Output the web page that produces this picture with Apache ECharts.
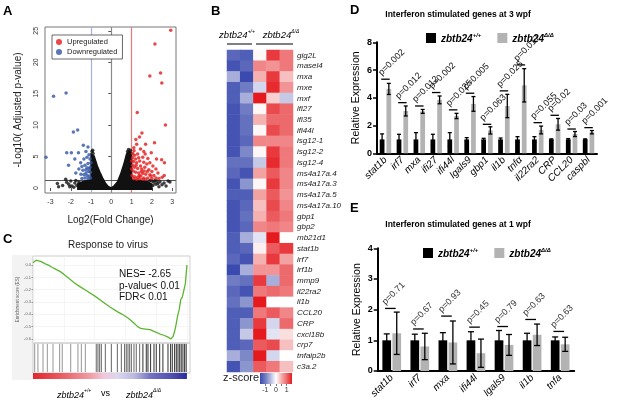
<!DOCTYPE html>
<html><head><meta charset="utf-8">
<script src="https://cdn.jsdelivr.net/npm/echarts@6/dist/echarts.min.js"></script>
<style>html,body{margin:0;padding:0;background:#fff}#c{width:617px;height:406px}</style>
</head><body><div id="c"></div>
<script>
// ---------------- DATA ----------------
// Panel A: volcano plot  [log2FC, -log10 adj p]
const volcanoUp = [[2.93,25.1],[2.15,22.9],[2.43,18.3],[1.9,17.8],[2.49,16.7],[1.28,12.0],[2.67,10.0],[1.51,8.76],[1.39,8.1],[2.13,7.2],[1.21,7.7],[1.69,6.95],[1.25,6.95],[1.44,6.2],[1.11,6.4],[1.97,5.6],[1.67,5.4],[2.48,4.5],[2.23,4.6],[2.62,4.0],[1.44,3.5],[2.61,2.0],[2.51,1.7],
[1.05,5.5],[1.15,5.2],[1.3,5.4],[1.05,4.8],[1.2,4.6],[1.35,4.8],[1.55,4.9],[1.8,4.7],[1.1,4.2],[1.25,4.0],[1.4,4.3],[1.6,4.1],[1.75,3.8],[1.9,4.0],[2.05,3.5],[1.05,3.6],[1.15,3.3],[1.3,3.1],[1.5,3.0],[1.65,3.3],[1.85,2.9],[2.0,2.6],[2.2,3.0],[1.08,2.7],[1.2,2.5],[1.35,2.4],[1.55,2.3],[1.7,2.2],[1.9,2.1],[2.1,2.0],[2.3,2.4],[1.02,2.0],[1.15,1.8],[1.3,1.7],[1.45,1.9],[1.6,1.6],[1.8,1.6],[2.0,1.5],[2.2,1.6],[1.1,1.5],[1.25,1.4],[1.4,1.45],[1.55,1.4],[1.7,1.4],[1.95,1.9],[2.35,1.5],[1.0,3.0],[1.0,4.3],[1.12,5.9],[1.6,5.8],[1.22,3.6],[1.38,2.0],[1.62,2.7],[1.78,2.6],[1.48,2.6]];
const volcanoDown = [[-2.85,14.6],[-2.23,15.1],[-1.66,9.2],[-1.87,8.9],[-3.22,4.9],[-1.38,6.8],[-1.15,6.5],[-2.2,5.6],[-1.97,5.6],[-1.62,5.6],[-1.25,5.8],[-1.1,5.3],[-1.8,4.6],[-2.11,3.6],[-1.51,4.0],[-1.35,4.6],[-1.2,4.9],[-1.05,4.6],[-1.45,3.4],[-1.3,3.6],[-1.15,3.9],[-1.05,3.3],[-1.4,2.8],[-1.25,2.9],[-1.12,2.6],[-1.03,2.5],[-1.5,2.2],[-1.35,2.1],[-1.2,2.0],[-1.08,1.9],[-1.3,1.6],[-1.15,1.5],[-1.02,1.6],[-1.45,1.5],[-1.6,3.0],[-1.75,2.4],[-1.25,2.4],[-1.1,3.0],[-1.0,4.0],[-1.2,3.2]];
const volcanoNS = [[-2.66,0.7],[-2.25,1.4],[-2.2,0.9],[-2.1,0.6],[-1.95,0.3],[-1.8,0.8],[-1.7,0.4],[-1.6,1.0],[-2.4,0.4],[-2.0,1.1],[-1.75,1.2],[-2.6,0.2],[-1.55,0.6],[-2.05,0.2],[-1.85,0.1],
[2.89,0.95],[2.6,0.8],[2.4,1.0],[2.2,0.6],[2.1,0.9],[2.25,1.1],[2.5,0.5],[2.7,0.3],[2.35,0.2],[2.05,0.4],[2.0,1.1],[1.9,1.2],[2.15,1.2],[2.8,1.1],[2.3,0.7],
[-0.95,5.8],[-0.9,5.5],[0.85,6.1],[0.95,6.0],[-0.92,6.0],[0.8,5.8]];
// envelope of the dense non-significant gene cloud
const volcanoCloud = [[-1.65,-0.2],[-1.65,0.7],[-1.3,1.1],[-1.0,1.3],[-1.0,5.4],[-0.85,5.1],[-0.69,3.5],[-0.56,2.5],[-0.44,1.65],[-0.28,0.7],[-0.14,0.2],[0,0.02],[0.13,0.3],[0.3,0.95],[0.46,2.2],[0.62,3.8],[0.75,5.4],[0.87,5.9],[1.0,5.6],[1.0,1.3],[1.4,1.2],[1.8,1.0],[2.0,0.6],[2.0,-0.2]];
const volcanoFCcuts = [-1, 0, 1];
const volcanoPcut = 1.3;
const volcanoXTicks = [-3,-2,-1,0,1,2,3];
const volcanoYTicks = [0,5,10,15,20,25];

// Panel B: heatmap z-scores
const heatGenes = ['gig2L','masel4','mxa','mxe','mxf','ifi27','ifi35','ifi44l','isg12-1','isg12-2','isg12-4','ms4a17a.4','ms4a17a.3','ms4a17a.5','ms4a17a.10','gbp1','gbp2','mb21d1','stat1b','irf7','irf1b','mmp9','il22ra2','il1b','CCL20','CRP','cxcl18b','crp7','tnfaip2b','c3a.2'];
const heatSamples = ['WT-1','WT-2','MUT-1','MUT-2','MUT-3'];
const heatZ = [
[-1.2,-1.3,0.05,1.3,0.9],[-1.4,-1.2,0.8,0.7,0.9],[-0.6,-1.5,0.5,1.3,0.4],[-1.3,-1.0,-0.3,1.4,0.7],[-1.3,-0.6,1.5,0.3,-0.4],
[-1.4,-1.0,0.05,1.2,1.0],[-1.4,-1.1,0.5,1.0,1.0],[-1.4,-1.1,0.05,1.2,1.0],[-1.4,-1.2,0.8,0.8,0.8],[-1.4,-0.9,0.05,1.3,0.9],
[-1.1,-1.1,-0.4,1.4,0.9],[-1.2,-1.4,0.6,1.1,0.8],[-1.4,-0.8,0.05,1.3,0.8],[-1.3,-1.3,0.6,1.1,0.7],[-1.4,-1.2,0.4,1.2,0.8],
[-1.4,-1.1,0.5,1.1,0.9],[-1.4,-1.2,0.8,0.9,0.8],[-1.3,-0.6,-0.2,1.5,0.0],[-1.3,-1.2,0.1,1.1,1.3],[-1.2,-1.4,0.5,1.3,0.6],
[-1.5,-0.6,0.7,0.7,1.0],[-1.0,-1.1,1.3,-0.6,1.0],[-1.2,-1.4,0.9,1.0,0.9],[-1.1,-0.8,1.5,0.0,0.0],[-1.3,-1.3,0.9,1.1,0.8],
[-1.3,-0.8,1.3,-0.3,1.0],[-1.3,-0.4,1.5,-0.2,0.2],[-1.3,-1.2,1.1,1.2,0.4],[-0.6,-0.9,1.5,-0.3,0.0],[-1.4,-0.8,1.1,0.9,0.4]];
const zScoreTicks = [-1, 0, 1];

// Panel C: GSEA running enrichment score [rank %, ES]
const gseaES = [[0,0.02],[1,0.03],[2,0.04],[3.5,0.035],[5,0.03],[6.5,0.02],[8,0.01],[10,0.0],[12,-0.015],[15,-0.035],[18,-0.055],[21,-0.085],[24,-0.115],[27,-0.145],[30.5,-0.175],[35,-0.21],[40,-0.25],[45,-0.295],[50,-0.34],[55,-0.38],[58,-0.40],[61.7,-0.43],[65,-0.465],[68,-0.5],[70,-0.515],[73,-0.52],[76,-0.525],[79,-0.54],[82.5,-0.56],[85,-0.57],[87.7,-0.585],[89.6,-0.6],[91,-0.58],[92,-0.54],[93,-0.48],[94,-0.41],[95,-0.36],[96,-0.28],[97,-0.26],[98,-0.25],[99,-0.15],[100,0.0]];
const gseaHits = [1.1,3.2,6.5,9.3,13,17.3,19,24.5,29.2,31.4,34,41.1,42.2,43.3,44.4,47,50.9,54.8,57.4,59.5,60.6,61.7,62.8,63.9,65.6,67.1,69.3,71.4,73.6,74.7,76.4,78.6,80.1,82.3,84.4,87.7,89.4,90.5,92,93.1,94.2,95.3,96.3,97.4,98.5,99.5];
const gseaYTicks = [0,-0.1,-0.2,-0.3,-0.4,-0.5,-0.6];
const gseaStats = ['NES= -2.65','p-value< 0.01','FDR< 0.01'];

// Panel D: 3 wpf qPCR
const dGenes = ['stat1b','irf7','mxa','ifi27','ifi44l','lgals9','gbp1','il1b','tnfα','il22ra2','CRP','CCL20','caspbl'];
const dWT = [1,1,1,1,1,1,1,1,1,1,1,1,1];
const dWTerr = [0.4,0.37,0.49,0.37,0.49,0.13,0.08,0.1,0.2,0.2,0.04,0.06,0.04];
const dKO = [4.64,3.05,3.02,3.85,2.69,3.56,1.65,3.41,4.9,1.68,2.09,1.39,1.52];
const dKOerr = [0.4,0.36,0.14,0.28,0.19,0.53,0.26,0.84,1.2,0.28,0.42,0.18,0.12];
const dLineY = [5.34,3.65,3.41,4.38,3.13,4.33,2.09,4.5,6.37,2.21,2.74,1.75,1.85];
const dP = ['p=0.002','p=0.012','p=0.012','p=0.002','p=0.025','p=0.005','p=0.063','p=0.025','p=0.017','p=0.055','p=0.02','p=0.03','p=0.001'];

// Panel E: 1 wpf qPCR
const eGenes = ['stat1b','irf7','mxa','ifi44l','lgals9','il1b','tnfa'];
const eWT = [1,1,1,1,1,1,1];
const eWTerr = [0.21,0.2,0.25,0.28,0.32,0.23,0.11];
const eKO = [1.23,0.8,0.93,0.58,0.85,1.18,0.87];
const eKOerr = [0.69,0.43,0.7,0.46,0.34,0.35,0.23];
const eLineY = [2.04,1.37,1.79,1.43,1.45,1.68,1.29];
const eP = ['p=0.71','p=0.67','p=0.93','p=0.45','p=0.79','p=0.63','p=0.63'];

// ---------------- CHART ----------------
const FF = 'Arial, "Liberation Sans", Helvetica, sans-serif';
const heatColors = ['#3a4aae','#6f7bc2','#b6bbe0','#ffffff','#f5b0b0','#ed6a6c','#e41a1f'];
const chart = echarts.init(document.getElementById('c'), null, {renderer:'canvas'});

function txt(x, y, text, st, extra) {
  return Object.assign({type:'text', x:x, y:y, silent:true, z:50,
    style:Object.assign({text:text, fill:'#000', fontFamily:FF, fontSize:10, align:'left', verticalAlign:'middle'}, st||{})}, extra||{});
}
function geno(fs, bold) {
  return {
    g:{fontStyle:'italic', fontWeight:bold?'bold':'normal', fontSize:fs, fontFamily:FF, fill:'#000', color:'#000', lineHeight:fs+2, verticalAlign:'bottom'},
    s:{fontStyle:'italic', fontWeight:bold?'bold':'normal', fontSize:Math.round(fs*0.55), fontFamily:FF, fill:'#000', color:'#000', lineHeight:fs+2, verticalAlign:'top'},
    n:{fontSize:fs, fontFamily:FF, fill:'#000', color:'#000', lineHeight:fs+2}
  };
}

function errRender(offFrac, capPx) {
  return function(params, api) {
    const i = api.value(0), m = api.value(1), e = api.value(2), side = api.value(3);
    const band = api.size([1,0])[0];
    const x = api.coord([i, m])[0] + side*offFrac*band;
    const top = api.coord([i, m+e])[1];
    const bot = api.coord([i, Math.max(m-e,0)])[1];
    const st = {stroke:'#000', lineWidth:1.3};
    return {type:'group', children:[
      {type:'line', shape:{x1:x,y1:top,x2:x,y2:bot}, style:st},
      {type:'line', shape:{x1:x-capPx/2,y1:top,x2:x+capPx/2,y2:top}, style:st},
      {type:'line', shape:{x1:x-capPx/2,y1:bot,x2:x+capPx/2,y2:bot}, style:st}
    ]};
  };
}
function pRender(labels, lenFrac, shiftFrac, fs, col) {
  return function(params, api) {
    const i = api.value(0), y = api.value(1);
    const band = api.size([1,0])[0];
    const c = api.coord([i, y]);
    const x1 = c[0] + (shiftFrac - lenFrac/2)*band, x2 = c[0] + (shiftFrac + lenFrac/2)*band;
    return {type:'group', children:[
      {type:'line', shape:{x1:x1,y1:c[1],x2:x2,y2:c[1]}, style:{stroke:'#000', lineWidth:1.3}},
      {type:'text', x:x1+2, y:c[1]-2, rotation:Math.PI/4,
       style:{text:labels[params.dataIndex], x:0, y:0, align:'left', verticalAlign:'bottom', fontSize:fs, fontFamily:FF, fill:col}}
    ]};
  };
}

const dBW = 0.28, dGap = 0.42, eBW = 0.31, eGap = 0.15;
const dOff = (dBW + dBW*dGap)/2, eOff = (eBW + eBW*eGap)/2;

const heatData = [];
heatZ.forEach((row, r) => row.forEach((v, c) => heatData.push([c, r, v])));

const option = {
  animation:false,
  backgroundColor:'#fff',
  textStyle:{fontFamily:FF},
  grid:[
    {left:45, top:27, width:131, height:166, show:true, borderColor:'#777', borderWidth:1, backgroundColor:'transparent'},
    {left:227, top:50, width:66, height:322},
    {left:260, top:373, width:32, height:11},
    {left:33, top:256, width:157, height:87, show:true, borderColor:'#ccc', borderWidth:1},
    {left:33, top:343, width:157, height:30, show:true, borderColor:'#ccc', borderWidth:1},
    {left:33, top:373, width:157, height:6},
    {left:377, top:42.3, width:220, height:111},
    {left:377.7, top:248.3, width:196.5, height:122.7}
  ],
  xAxis:[
    {gridIndex:0, type:'value', min:-3.27, max:3.19, axisLine:{show:false}, splitLine:{show:false},
     axisTick:{show:true, length:3, lineStyle:{color:'#555'}, customValues:volcanoXTicks},
     axisLabel:{fontSize:7, color:'#333', margin:6, customValues:volcanoXTicks},
     name:'Log2(Fold Change)', nameLocation:'middle', nameGap:22, nameTextStyle:{fontSize:10, color:'#222'}},
    {gridIndex:1, type:'category', data:heatSamples, show:false},
    {gridIndex:2, type:'value', min:-1.5, max:1.5, axisLine:{show:false}, splitLine:{show:false},
     axisTick:{show:true, length:2, lineStyle:{color:'#777'}, customValues:[-1,-0.5,0,0.5,1]},
     axisLabel:{fontSize:7, color:'#333', margin:3, customValues:zScoreTicks}},
    {gridIndex:3, type:'value', min:0, max:102, axisLine:{show:false}, axisTick:{show:false}, axisLabel:{show:false},
     splitLine:{show:true, lineStyle:{color:'#eee', width:0.6}}},
    {gridIndex:4, type:'value', min:0, max:102, show:false},
    {gridIndex:5, type:'value', min:0, max:102, show:false},
    {gridIndex:6, type:'category', data:dGenes, axisLine:{lineStyle:{color:'#000', width:2}},
     axisTick:{alignWithLabel:true, length:3, lineStyle:{color:'#000', width:1.5}},
     axisLabel:{rotate:45, fontSize:10, fontStyle:'italic', color:'#000', margin:5, interval:0}},
    {gridIndex:7, type:'category', data:eGenes, axisLine:{lineStyle:{color:'#000', width:2}},
     axisTick:{alignWithLabel:true, length:3, lineStyle:{color:'#000', width:1.5}},
     axisLabel:{rotate:45, fontSize:10, fontStyle:'italic', color:'#000', margin:5, interval:0}}
  ],
  yAxis:[
    {gridIndex:0, type:'value', min:-0.8, max:25.6, axisLine:{show:false}, splitLine:{show:false},
     axisTick:{show:true, length:3, lineStyle:{color:'#555'}, customValues:volcanoYTicks},
     axisLabel:{fontSize:7, color:'#333', rotate:90, margin:5, customValues:volcanoYTicks},
     name:'-Log10( Adjusted p-value)', nameLocation:'middle', nameGap:22, nameTextStyle:{fontSize:10, color:'#222'}},
    {gridIndex:1, type:'category', data:heatGenes, inverse:true, position:'right',
     axisLine:{show:false}, axisTick:{show:false},
     axisLabel:{fontSize:8, fontStyle:'italic', color:'#222', margin:4, interval:0}},
    {gridIndex:2, type:'value', min:0, max:1, show:false},
    {gridIndex:3, type:'value', min:-0.633, max:0.074, axisLine:{show:false},
     axisTick:{show:true, length:1.5, lineStyle:{color:'#999'}, customValues:gseaYTicks},
     axisLabel:{fontSize:4, color:'#666', margin:2, customValues:gseaYTicks, formatter:v=>v.toFixed(1)},
     splitLine:{show:true, lineStyle:{color:'#eee', width:0.6}},
     name:'Enrichment score (ES)', nameLocation:'middle', nameGap:9, nameTextStyle:{fontSize:4.5, color:'#666'}},
    {gridIndex:4, type:'value', min:0, max:1, show:false},
    {gridIndex:5, type:'value', min:0, max:1, show:false},
    {gridIndex:6, type:'value', min:0, max:8, interval:2, axisLine:{show:true, lineStyle:{color:'#000', width:2}},
     axisTick:{show:true, length:4, lineStyle:{color:'#000', width:1.5}}, splitLine:{show:false},
     axisLabel:{fontSize:9, fontWeight:'bold', color:'#000', margin:5},
     name:'Relative Expression', nameLocation:'middle', nameGap:15, nameTextStyle:{fontSize:10.5, color:'#000'}},
    {gridIndex:7, type:'value', min:0, max:4, interval:1, axisLine:{show:true, lineStyle:{color:'#000', width:2}},
     axisTick:{show:true, length:4, lineStyle:{color:'#000', width:1.5}}, splitLine:{show:false},
     axisLabel:{fontSize:9, fontWeight:'bold', color:'#000', margin:5},
     name:'Relative Expression', nameLocation:'middle', nameGap:15, nameTextStyle:{fontSize:10.5, color:'#000'}}
  ],
  visualMap:[{type:'continuous', show:false, min:-1.5, max:1.5, seriesIndex:4, inRange:{color:heatColors}}],
  legend:[
    {data:['Upregulated','Downregulated'], left:52, top:35, orient:'vertical', icon:'circle', itemWidth:6, itemHeight:6, itemGap:2,
     padding:[3,5,3,4], borderColor:'#444', borderWidth:0.8, backgroundColor:'#fff', textStyle:{fontSize:7.5, color:'#222'}, selectedMode:false},
    {data:['WT3','MUT3'], left:421, top:27, orient:'horizontal', icon:'rect', itemWidth:10, itemHeight:10, itemGap:16, selectedMode:false,
     formatter:n=> n==='WT3' ? '{g|zbtb24}{s|+/+}' : '{g|zbtb24}{s|Δ/Δ}', textStyle:{rich:geno(10,true)}},
    {data:['WT1','MUT1'], left:418, top:242, orient:'horizontal', icon:'rect', itemWidth:10, itemHeight:10, itemGap:16, selectedMode:false,
     formatter:n=> n==='WT1' ? '{g|zbtb24}{s|+/+}' : '{g|zbtb24}{s|Δ/Δ}', textStyle:{rich:geno(10,true)}}
  ],
  series:[
    // 0 volcano cloud
    {type:'custom', xAxisIndex:0, yAxisIndex:0, data:[[0,0]], silent:true, z:2,
     renderItem:(p, api)=>({type:'polygon', shape:{points:volcanoCloud.map(pt=>api.coord(pt))}, style:{fill:'#111', stroke:'#111', lineWidth:1.5}})},
    // 1 non significant points + thresholds
    {type:'scatter', name:'NS', xAxisIndex:0, yAxisIndex:0, data:volcanoNS, symbolSize:3.5, itemStyle:{color:'#111'}, z:3,
     markLine:{silent:true, symbol:'none', label:{show:false}, z:1,
       data:[{xAxis:volcanoFCcuts[0], lineStyle:{color:'#9fb2de', width:1.2, type:'solid'}},
             {xAxis:volcanoFCcuts[1], lineStyle:{color:'#8a8a8a', width:1.2, type:'solid'}},
             {xAxis:volcanoFCcuts[2], lineStyle:{color:'#e77b7b', width:1.2, type:'solid'}},
             {yAxis:volcanoPcut, lineStyle:{color:'#555', width:1, type:'solid'}}]}},
    // 2 up
    {type:'scatter', name:'Upregulated', xAxisIndex:0, yAxisIndex:0, data:volcanoUp, symbolSize:3.5, itemStyle:{color:'#e41a1c'}, z:4},
    // 3 down
    {type:'scatter', name:'Downregulated', xAxisIndex:0, yAxisIndex:0, data:volcanoDown, symbolSize:3.5, itemStyle:{color:'#2f55a4'}, z:4},
    // 4 heatmap
    {type:'heatmap', xAxisIndex:1, yAxisIndex:1, data:heatData, itemStyle:{borderWidth:0}},
    // 5 z-score color bar
    {type:'custom', xAxisIndex:2, yAxisIndex:2, data:[[-1.5,1.5]], silent:true,
     renderItem:(p, api)=>{ const a = api.coord([api.value(0),1]), b = api.coord([api.value(1),0]);
       return {type:'rect', shape:{x:a[0], y:a[1], width:b[0]-a[0], height:b[1]-a[1]},
         style:{fill:{type:'linear', x:0, y:0, x2:1, y2:0, colorStops:heatColors.map((c,k)=>({offset:k/(heatColors.length-1), color:c}))}}}; }},
    // 6 GSEA ES line
    {type:'line', xAxisIndex:3, yAxisIndex:3, data:gseaES, showSymbol:false, lineStyle:{color:'#5cb531', width:1.3}, itemStyle:{color:'#5cb531'}, silent:true},
    // 7 GSEA hits
    {type:'custom', xAxisIndex:4, yAxisIndex:4, data:gseaHits.map(h=>[h]), silent:true,
     renderItem:(p, api)=>{ const x = api.value(0); const a = api.coord([x,0.03]), b = api.coord([x,0.97]);
       const col = x < 40 ? '#8a8a8a' : (x < 70 ? '#555' : '#1a1a1a');
       return {type:'line', shape:{x1:a[0], y1:a[1], x2:b[0], y2:b[1]}, style:{stroke:col, lineWidth:0.9}}; }},
    // 8 GSEA ranked-list color bar
    {type:'custom', xAxisIndex:5, yAxisIndex:5, data:[[0,100]], silent:true,
     renderItem:(p, api)=>{ const a = api.coord([api.value(0),1]), b = api.coord([api.value(1),0]);
       return {type:'rect', shape:{x:a[0], y:a[1], width:b[0]-a[0], height:b[1]-a[1]},
         style:{fill:{type:'linear', x:0, y:0, x2:1, y2:0, colorStops:[
           {offset:0, color:'#e2262e'},{offset:0.18, color:'#ea5a60'},{offset:0.38, color:'#f1a0a8'},{offset:0.46, color:'#f2c6dc'},
           {offset:0.55, color:'#dcd6ee'},{offset:0.66, color:'#b9b8e0'},{offset:0.76, color:'#7474c2'},{offset:0.9, color:'#5050b0'},{offset:1, color:'#2b2b9c'}]}}}; }},
    // 9,10 D bars
    {type:'bar', name:'WT3', xAxisIndex:6, yAxisIndex:6, data:dWT, barWidth:(dBW*100)+'%', barGap:(dGap*100)+'%', itemStyle:{color:'#000'}},
    {type:'bar', name:'MUT3', xAxisIndex:6, yAxisIndex:6, data:dKO, barWidth:(dBW*100)+'%', barGap:(dGap*100)+'%', itemStyle:{color:'#b3b3b3'}},
    // 11 D errors
    {type:'custom', xAxisIndex:6, yAxisIndex:6, silent:true, z:5, renderItem:errRender(dOff, 4),
     data:dWT.map((v,i)=>[i,v,dWTerr[i],-1]).concat(dKO.map((v,i)=>[i,v,dKOerr[i],1]))},
    // 12 D p-values
    {type:'custom', xAxisIndex:6, yAxisIndex:6, silent:true, z:5, renderItem:pRender(dP, 0.5, 0, 9, '#111'),
     data:dLineY.map((v,i)=>[i,v])},
    // 13,14 E bars
    {type:'bar', name:'WT1', xAxisIndex:7, yAxisIndex:7, data:eWT, barWidth:(eBW*100)+'%', barGap:(eGap*100)+'%', itemStyle:{color:'#000'}},
    {type:'bar', name:'MUT1', xAxisIndex:7, yAxisIndex:7, data:eKO, barWidth:(eBW*100)+'%', barGap:(eGap*100)+'%', itemStyle:{color:'#b3b3b3'}},
    // 15 E errors
    {type:'custom', xAxisIndex:7, yAxisIndex:7, silent:true, z:5, renderItem:errRender(eOff, 6),
     data:eWT.map((v,i)=>[i,v,eWTerr[i],-1]).concat(eKO.map((v,i)=>[i,v,eKOerr[i],1]))},
    // 16 E p-values
    {type:'custom', xAxisIndex:7, yAxisIndex:7, silent:true, z:5, renderItem:pRender(eP, 0.38, -0.05, 9, '#333'),
     data:eLineY.map((v,i)=>[i,v])}
  ],
  graphic:[
    {type:'rect', shape:{x:12, y:255, width:21, height:125}, style:{fill:'#f3f3f3'}, z:-1, silent:true},
    txt(3, 11, 'A', {fontSize:13, fontWeight:'bold'}),
    txt(211, 11, 'B', {fontSize:13, fontWeight:'bold'}),
    txt(3, 239, 'C', {fontSize:13, fontWeight:'bold'}),
    txt(350, 10, 'D', {fontSize:13, fontWeight:'bold'}),
    txt(350, 208, 'E', {fontSize:13, fontWeight:'bold'}),
    // heatmap header
    txt(237, 35, '{g|zbtb24}{s|+/+}', {align:'center', rich:geno(9.5,false)}),
    txt(281, 35, '{g|zbtb24}{s|Δ/Δ}', {align:'center', rich:geno(9.5,false)}),
    {type:'line', shape:{x1:227, y1:44, x2:252, y2:44}, style:{stroke:'#000', lineWidth:1}, silent:true},
    {type:'line', shape:{x1:256, y1:44, x2:293, y2:44}, style:{stroke:'#000', lineWidth:1}, silent:true},
    txt(223, 378, 'z-score', {fontSize:11, fill:'#222'}),
    // GSEA texts
    txt(108, 245, 'Response to virus', {fontSize:10, align:'center', fill:'#222'}),
    txt(119, 274, gseaStats[0], {fontSize:10, fill:'#111'}),
    txt(119, 286, gseaStats[1], {fontSize:10, fill:'#111'}),
    txt(119, 297.5, gseaStats[2], {fontSize:10, fill:'#111'}),
    txt(57, 394, '{g|zbtb24}{s|+/+}', {rich:geno(9,false)}),
    txt(101, 394, 'vs', {fontSize:9}),
    txt(126, 394, '{g|zbtb24}{s|Δ/Δ}', {rich:geno(9,false)}),
    // D / E titles
    txt(458, 15, 'Interferon stimulated genes at 3 wpf', {fontSize:8.5, fontWeight:'bold', align:'center'}),
    txt(458, 225, 'Interferon stimulated genes at 1 wpf', {fontSize:8.5, fontWeight:'bold', align:'center'})
  ]
};
chart.setOption(option);
</script></body></html>
